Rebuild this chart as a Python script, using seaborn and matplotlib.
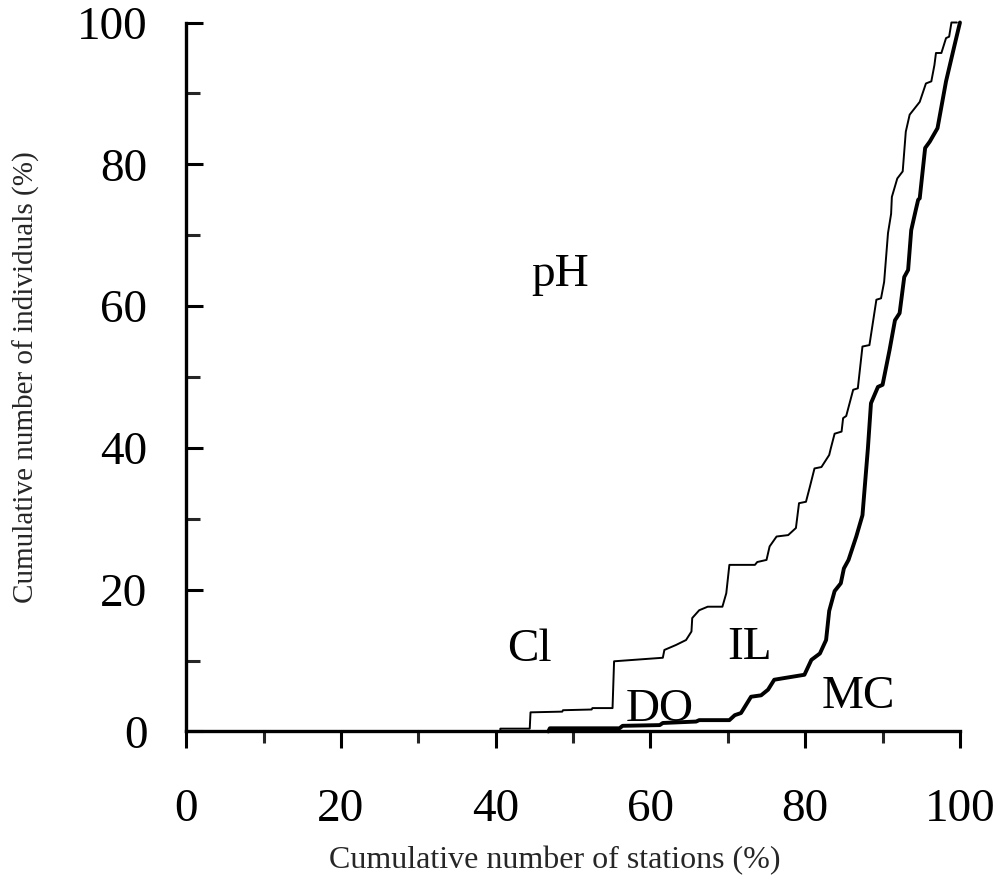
import matplotlib
matplotlib.use("Agg")
import matplotlib.pyplot as plt
from matplotlib.ticker import MultipleLocator
import pandas as pd
import seaborn as sns

sns.set_theme(style="white")
plt.rcParams["font.family"] = ["Liberation Serif", "DejaVu Serif"]

# Cumulative curves: % of stations (x) vs % of individuals (y)
thin_x = [40.6, 40.6, 44.4, 44.5, 48.6, 48.7, 52.4, 52.5, 55.1, 55.3, 61.6, 61.8,
          63.3, 64.6, 65.3, 65.4, 66.3, 67.4, 69.3, 69.8, 70.2, 73.5, 73.8, 75.0,
          75.4, 76.3, 77.8, 78.8, 79.2, 80.1, 80.6, 81.2, 82.1, 83.1, 83.3, 83.8,
          84.7, 84.9, 85.3, 86.2, 86.8, 87.4, 88.3, 89.2, 89.8, 90.2, 90.7, 91.1,
          91.2, 91.9, 92.6, 93.0, 93.5, 94.8, 95.6, 96.3, 96.7, 96.9, 97.6, 98.2,
          98.6, 98.9, 99.6]
thin_y = [0.0, 0.4, 0.4, 2.7, 2.8, 3.0, 3.1, 3.3, 3.3, 9.9, 10.4, 11.5,
          12.2, 12.9, 14.1, 16.0, 17.1, 17.6, 17.6, 19.5, 23.5, 23.5, 23.9, 24.2,
          26.1, 27.5, 27.7, 28.7, 32.2, 32.4, 34.5, 37.1, 37.3, 39.0, 39.9, 42.0,
          42.3, 44.2, 44.5, 48.2, 48.4, 54.3, 54.5, 60.9, 61.1, 63.4, 70.3, 73.0,
          75.4, 78.0, 79.0, 84.6, 87.0, 88.8, 91.4, 91.7, 94.0, 95.7, 95.7, 97.8,
          98.0, 100.0, 100.0]

thick_x = [46.8, 47.0, 56.0, 56.4, 61.2, 61.6, 65.9, 66.3, 70.2, 70.9, 71.7, 73.0,
           74.3, 75.2, 76.0, 77.1, 79.9, 80.8, 81.9, 82.7, 83.1, 83.8, 84.6, 85.0,
           85.6, 86.6, 87.0, 87.4, 88.1, 88.5, 89.4, 90.0, 90.9, 91.6, 92.2, 92.8,
           93.3, 93.7, 94.3, 94.6, 94.8, 95.5, 96.1, 97.1, 98.2, 99.3, 100.0]
thick_y = [0.0, 0.45, 0.45, 0.8, 0.9, 1.2, 1.4, 1.6, 1.6, 2.3, 2.6, 4.9,
           5.1, 5.9, 7.3, 7.5, 8.0, 10.1, 11.0, 12.9, 17.0, 19.8, 20.9, 23.0,
           24.2, 27.5, 29.0, 30.5, 39.9, 46.3, 48.6, 48.9, 53.8, 58.0, 59.0, 64.1,
           65.1, 70.7, 73.6, 75.0, 75.2, 82.3, 83.2, 85.1, 91.7, 96.8, 100.0]

labels = ["pH", "Cl", "DO", "IL", "MC"]
label_x = [48.3, 44.4, 61.2, 72.8, 86.8]
label_y = [64.4, 11.5, 3.0, 11.8, 4.9]

x_ticks = [0, 20, 40, 60, 80, 100]
y_ticks = [0, 20, 40, 60, 80, 100]

thin_df = pd.DataFrame({"x": thin_x, "y": thin_y})
thick_df = pd.DataFrame({"x": thick_x, "y": thick_y})

fig = plt.figure(figsize=(10.01, 8.86), dpi=100)
ax = fig.add_axes([0.186, 0.1744, 0.773, 0.8002])

sns.lineplot(data=thin_df, x="x", y="y", sort=False, estimator=None,
             color="black", linewidth=1.4, ax=ax, clip_on=False)
sns.lineplot(data=thick_df, x="x", y="y", sort=False, estimator=None,
             color="black", linewidth=2.8, ax=ax, clip_on=False)

for t, lx, ly in zip(labels, label_x, label_y):
    ax.text(lx, ly, t, fontsize=34, ha="center", va="center", color="black")

ax.set_xlim(0, 100)
ax.set_ylim(0, 100)
ax.set_xticks(x_ticks)
ax.set_yticks(y_ticks)
ax.xaxis.set_minor_locator(MultipleLocator(10))
ax.yaxis.set_minor_locator(MultipleLocator(10))

for side in ["top", "right"]:
    ax.spines[side].set_visible(False)
for side in ["left", "bottom"]:
    ax.spines[side].set_visible(True)
    ax.spines[side].set_color("black")
    ax.spines[side].set_linewidth(2.4)

ax.tick_params(axis="x", which="major", direction="out", length=12, width=2.2,
               labelsize=34, pad=29, colors="black", bottom=True)
ax.tick_params(axis="x", which="minor", direction="out", length=8.5, width=2.2,
               bottom=True)
ax.tick_params(axis="y", which="major", direction="in", length=12, width=2.2,
               labelsize=34, pad=28, colors="black", left=True)
ax.tick_params(axis="y", which="minor", direction="in", length=10, width=2.2,
               left=True)

ax.set_xlabel("Cumulative number of stations (%)", fontsize=23,
              ha="center", va="center")
ax.xaxis.set_label_coords(0.476, -0.182)
ax.set_ylabel("Cumulative number of individuals (%)", fontsize=21,
              ha="center", va="center")
ax.yaxis.set_label_coords(-0.206, 0.5)
ax.grid(False)

fig.savefig("out.png", dpi=100, facecolor="white")
